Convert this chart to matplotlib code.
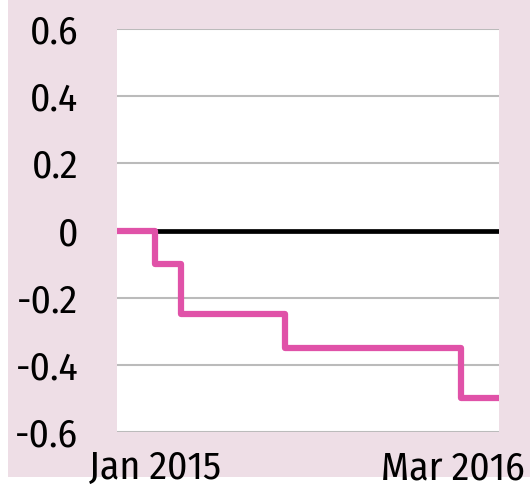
import matplotlib
matplotlib.use("Agg")
import matplotlib.pyplot as plt
import matplotlib.dates as mdates
import matplotlib.transforms as mtransforms
from matplotlib import font_manager
from matplotlib.patches import Rectangle
import numpy as np

# data: policy rate steps (%)
dates = np.array(['2015-01-01', '2015-02-15', '2015-03-18', '2015-07-20',
                  '2016-02-15', '2016-03-31'], dtype='datetime64[D]')
rates = [0.0, -0.10, -0.25, -0.35, -0.50, -0.50]
yticks = [0.6, 0.4, 0.2, 0, -0.2, -0.4, -0.6]
ytick_labels = ['0.6', '0.4', '0.2', '0', '-0.2', '-0.4', '-0.6']
xtick_dates = np.array(['2015-01-01', '2016-03-31'], dtype='datetime64[D]')
xtick_labels = ['Jan 2015', 'Mar 2016']

names = {f.name for f in font_manager.fontManager.ttflist}
family = 'Fira Sans Condensed' if 'Fira Sans Condensed' in names else 'Lato'
plt.rcParams['font.family'] = [family, 'DejaVu Sans']

fig = plt.figure(figsize=(5.30, 4.87), dpi=100)
fig.patch.set_facecolor('white')
fig.patches.append(Rectangle((8 / 530, 10 / 487), 1, 1, transform=fig.transFigure,
                             facecolor='#eedee6', edgecolor='none', zorder=-10))

ax = fig.add_axes([117 / 530, 55 / 487, 382 / 530, 403 / 487])
ax.set_facecolor('white')

x = mdates.date2num(dates)
ax.step(x, rates, where='post', color='#e052a8', lw=4.5,
        solid_joinstyle='round', solid_capstyle='butt', zorder=4, clip_on=False)
ax.axhline(0, color='black', lw=3.4, zorder=3)

ax.set_ylim(-0.6, 0.6)
ax.set_xlim(x[0], x[-1])
ax.set_yticks(yticks)
ax.set_yticklabels(ytick_labels)
ax.yaxis.grid(True, color='#bbbbbb', lw=1.5)
ax.set_axisbelow(True)

ax.set_xticks(mdates.date2num(xtick_dates))
ax.set_xticklabels(xtick_labels)
ax.tick_params(axis='both', length=0, labelsize=28.5, colors='black')
ax.tick_params(axis='y', pad=28)
ax.tick_params(axis='x', pad=13)

# shift the end labels inwards so they stay inside the figure
offsets = [38, -46]
for lab, dx in zip(ax.get_xticklabels(), offsets):
    lab.set_transform(lab.get_transform() +
                      mtransforms.ScaledTranslation(dx / 100, 0, fig.dpi_scale_trans))

for s in ax.spines.values():
    s.set_visible(False)

fig.savefig('out.png', dpi=100)
